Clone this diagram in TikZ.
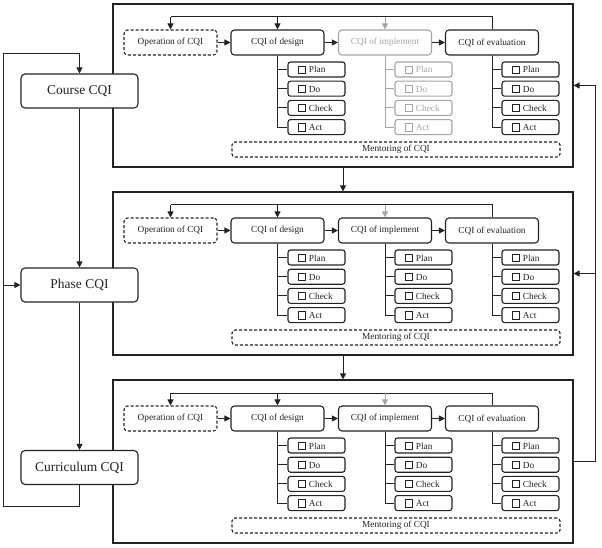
\documentclass[tikz,border=0pt]{standalone}
\usepackage{fontspec}
\setmainfont{Liberation Serif}
\usetikzlibrary{arrows.meta,calc}
\definecolor{lg}{RGB}{165,165,165}
\definecolor{ink}{RGB}{35,35,35}
\newcommand\cbx{{\setlength{\fboxsep}{0pt}\setlength{\fboxrule}{0.4pt}\fbox{\rule{0pt}{7pt}\rule{7pt}{0pt}}}}
\begin{document}
\begin{tikzpicture}[x=1pt,y=-1pt,line width=1pt,color=ink,
  frame/.style={draw,line width=1.1pt,minimum width=460pt,minimum height=163pt,inner sep=0pt},
  big/.style={draw,fill=white,rounded corners=4pt,minimum width=117pt,minimum height=34pt,inner sep=0pt,font=\fontsize{13.5}{15}\selectfont,line width=1.1pt},
  stage/.style={draw,fill=white,rounded corners=3.5pt,minimum width=93pt,minimum height=25pt,inner sep=0pt,font=\fontsize{9.3}{11}\selectfont,line width=1.1pt},
  opstage/.style={stage,dash pattern=on 3pt off 2pt},
  sub/.style={draw,fill=white,rounded corners=2.5pt,minimum height=15pt,text width=37pt,inner xsep=10pt,inner ysep=0pt,align=left,font=\fontsize{9.3}{11}\selectfont,line width=1.1pt},
  ment/.style={draw,dash pattern=on 3pt off 2pt,rounded corners=3pt,minimum width=328pt,minimum height=15pt,inner sep=0pt,font=\fontsize{9.3}{11}\selectfont,line width=1.1pt},
  arr/.style={-{Triangle[length=6pt,width=6pt]}}]
\useasboundingbox (0,0) rectangle (602,548);
\foreach \i/\dy/\ic in {1/0/lg,2/188/ink,3/376/ink}{
  \node[frame] (fr\i) at (343,85.5+\dy) {};
  \node[opstage] (op\i) at (170.5,42.5+\dy) {Operation of CQI};
  \node[stage] (des\i) at (277.5,42.5+\dy) {CQI of design};
  \node[stage,draw=\ic,text=\ic] (imp\i) at (385,42.5+\dy) {CQI of implement};
  \node[stage] (eva\i) at (492,42.5+\dy) {CQI of evaluation};
  \node[ment] (men\i) at (396,149.5+\dy) {Mentoring of CQI};
  \foreach \k/\t in {0/Plan,1/Do,2/Check,3/Act}{
    \node[sub] (des\i s\k) at (316.5,69.5+19.2*\k+\dy) {\cbx\ \t};
    \draw (des\i.south) |- (des\i s\k.west);
    \node[sub,draw=\ic,text=\ic] (imp\i s\k) at (423.5,69.5+19.2*\k+\dy) {\cbx\ \t};
    \draw[\ic] (imp\i.south) |- (imp\i s\k.west);
    \node[sub] (eva\i s\k) at (530.5,69.5+19.2*\k+\dy) {\cbx\ \t};
    \draw (eva\i.south) |- (eva\i s\k.west);
  }
  \coordinate (fl\i) at (170.5,17+\dy);
  \draw (eva\i.north) |- (fl\i);
  \draw[arr] (fl\i) -- (op\i.north);
  \draw[arr] (des\i.north |- fl\i) -- (des\i.north);
  \draw[arr,lg] (imp\i.north |- fl\i) -- (imp\i.north);
  \draw[arr] (op\i) -- (des\i);
  \draw[arr] (des\i) -- (imp\i);
  \draw[arr] (imp\i) -- (eva\i);
}
\draw[arr] (fr1.south) -- (fr2.north);
\draw[arr] (fr2.south) -- (fr3.north);
\node[big] (cou) at (79.5,91) {Course CQI};
\node[big] (pha) at (79.5,285) {Phase CQI};
\node[big] (cur) at (79.5,467.5) {Curriculum CQI};
\draw[arr] (cou) -- (pha);
\draw[arr] (pha) -- (cur);
\coordinate (lb) at (79.5,506);
\coordinate (lbl) at (3,506);
\coordinate (ltl) at (3,54);
\coordinate (lt) at (79.5,54);
\coordinate (lm) at (3,285);
\draw[arr] (cur.south) -- (lb) -- (lbl) -- (ltl) -- (lt) -- (cou.north);
\draw[arr] (lm) -- (pha.west);
\coordinate (rb) at (595,461.5);
\coordinate (rt) at (595,85.5);
\coordinate (rm) at (595,273.5);
\draw[arr] (fr3.east) -- (rb) -- (rt) -- (fr1.east);
\draw[arr] (rm) -- (fr2.east);
\end{tikzpicture}
\end{document}
